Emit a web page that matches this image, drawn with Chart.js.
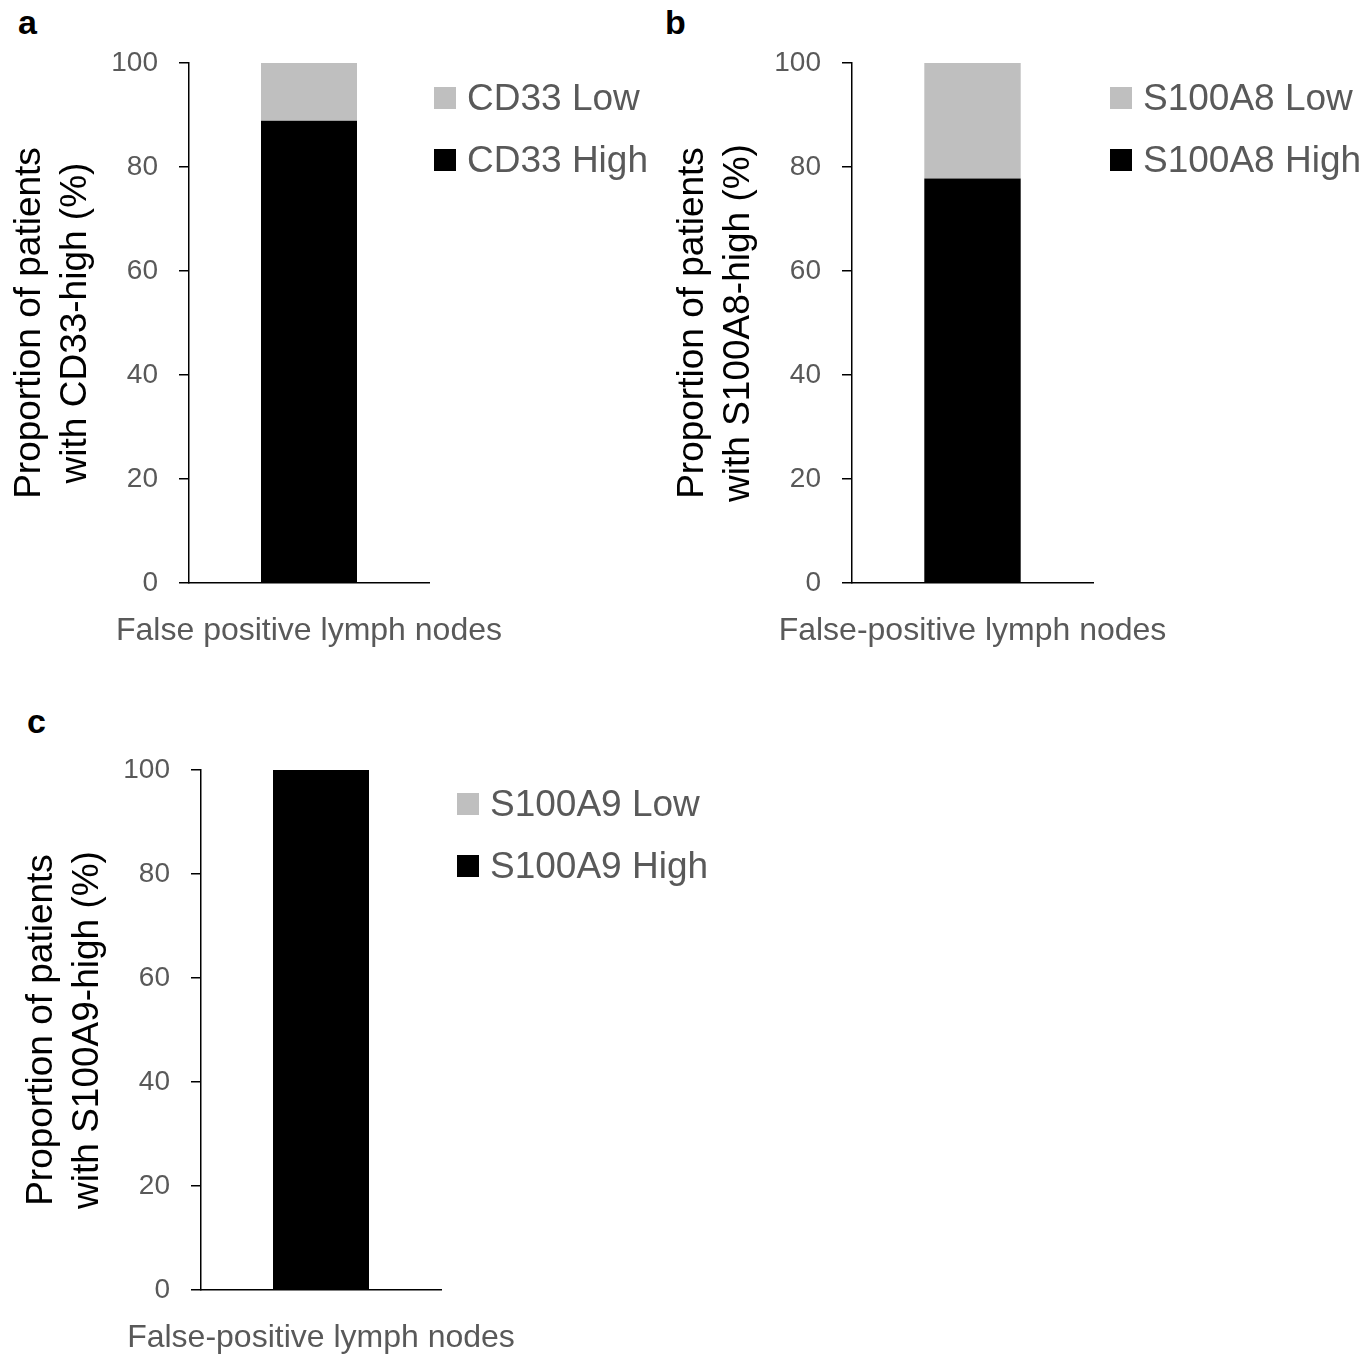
<!DOCTYPE html>
<html>
<head>
<meta charset="utf-8">
<script src="https://cdn.jsdelivr.net/npm/chart.js@4/dist/chart.umd.min.js"></script>
<style>
  body { margin: 0; background: #fff; font-family: "Liberation Sans", Arial, sans-serif; }
  #page { position: relative; width: 1369px; height: 1364px; }
  canvas { position: absolute; }
  .letter { position: absolute; font-weight: bold; font-size: 34px; color: #000; line-height: 1; }
  .legend { position: absolute; font-size: 37px; color: #595959; }
  .legend .item { height: 62px; display: flex; align-items: center; white-space: nowrap; }
  .legend .sw { width: 22px; height: 22px; margin-right: 11px; }
</style>
</head>
<body>
<div id="page">
  <div class="letter" style="left:18px; top:5px;">a</div>
  <div class="letter" style="left:665px; top:5px;">b</div>
  <div class="letter" style="left:27px; top:704px;">c</div>

  <canvas id="chartA" width="540" height="660" style="left:0px; top:0px;"></canvas>
  <canvas id="chartB" width="541" height="660" style="left:663px; top:0px;"></canvas>
  <canvas id="chartC" width="540" height="660" style="left:12px; top:707px;"></canvas>

  <div class="legend" id="legendA" style="left:434px; top:67px;"></div>
  <div class="legend" id="legendB" style="left:1110px; top:67px;"></div>
  <div class="legend" id="legendC" style="left:457px; top:773px;"></div>
</div>
<script>
// data
const categoriesA = ["False positive lymph nodes"];
const categoriesB = ["False-positive lymph nodes"];
const categoriesC = ["False-positive lymph nodes"];

const cd33High = [88.9];
const cd33Low = [11.1];
const s100a8High = [77.8];
const s100a8Low = [22.2];
const s100a9High = [100];
const s100a9Low = [0];

const yTicks = [0, 20, 40, 60, 80, 100];

const titleA = ["Proportion of patients", "with CD33-high (%)"];
const titleB = ["Proportion of patients", "with S100A8-high (%)"];
const titleC = ["Proportion of patients", "with S100A9-high (%)"];

const HIGH = "#000000";
const LOW = "#bfbfbf";
const FONT = "'Liberation Sans', Arial, sans-serif";

function makeChart(id, labels, high, low, names, yTitle) {

    const canvas = document.getElementById(id);

    return new Chart(canvas, {
        type: "bar",
        data: {
            labels: labels,
            datasets: [
                { label: names[0], data: high, backgroundColor: HIGH, borderWidth: 0 },
                { label: names[1], data: low, backgroundColor: LOW, borderWidth: 0 }
            ]
        },
        options: {
            responsive: false,
            animation: false,
            devicePixelRatio: 1,
            // right padding leaves room for the wide category label
            layout: { padding: { top: 63, right: 111, bottom: 0, left: 0 } },
            plugins: { legend: { display: false }, tooltip: { enabled: false } },
            datasets: { bar: { categoryPercentage: 1, barPercentage: 0.4 } },
            scales: {
                x: {
                    stacked: true,
                    grid: { display: false, drawTicks: false },
                    border: { display: true, color: "#000", width: 1.5 },
                    ticks: {
                        color: "#595959",
                        font: { family: FONT, size: 32 },
                        padding: 29,
                        maxRotation: 0,
                        autoSkip: false
                    },
                    afterFit: function (scale) {
                        scale.height = 77;
                        scale.paddingLeft = 0;
                        scale.paddingRight = 0;
                    }
                },
                y: {
                    stacked: true,
                    min: 0,
                    max: 100,
                    afterBuildTicks: function (scale) {
                        scale.ticks = yTicks.map(v => ({ value: v }));
                    },
                    grid: {
                        drawOnChartArea: false,
                        drawTicks: true,
                        tickLength: 10,
                        color: "#000",
                        lineWidth: 1.5
                    },
                    border: { display: true, color: "#000", width: 1.5 },
                    ticks: {
                        color: "#595959",
                        font: { family: FONT, size: 28 },
                        padding: 21
                    },
                    title: {
                        display: true,
                        text: yTitle,
                        color: "#000",
                        font: { family: FONT, size: 37, lineHeight: 1.24 },
                        padding: { top: 7, bottom: 0 }
                    },
                    afterFit: function (scale) {
                        scale.width = 189;
                        scale.paddingTop = 0;
                        scale.paddingBottom = 0;
                    }
                }
            }
        }
    });
}

function makeLegend(id, names) {
    const box = document.getElementById(id);
    // Low on top, High below
    [[names[1], LOW], [names[0], HIGH]].forEach(function (it) {
        const row = document.createElement("div");
        row.className = "item";
        const sw = document.createElement("div");
        sw.className = "sw";
        sw.style.background = it[1];
        const tx = document.createElement("span");
        tx.textContent = it[0];
        row.appendChild(sw);
        row.appendChild(tx);
        box.appendChild(row);
    });
}

const namesA = ["CD33 High", "CD33 Low"];
const namesB = ["S100A8 High", "S100A8 Low"];
const namesC = ["S100A9 High", "S100A9 Low"];

makeChart("chartA", categoriesA, cd33High, cd33Low, namesA, titleA);
makeChart("chartB", categoriesB, s100a8High, s100a8Low, namesB, titleB);
makeChart("chartC", categoriesC, s100a9High, s100a9Low, namesC, titleC);

makeLegend("legendA", namesA);
makeLegend("legendB", namesB);
makeLegend("legendC", namesC);
</script>
</body>
</html>
